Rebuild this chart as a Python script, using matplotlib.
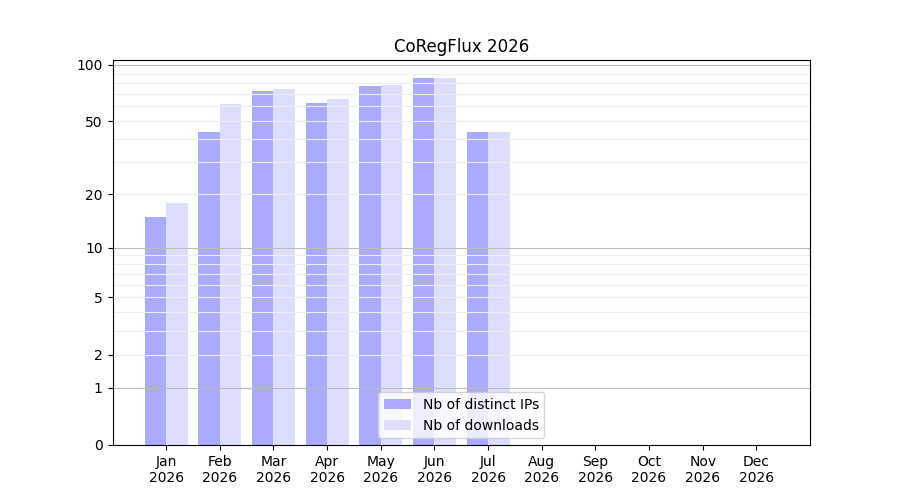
import numpy as np
import matplotlib
matplotlib.use("Agg")
import matplotlib.pyplot as plt

months = ["Jan", "Feb", "Mar", "Apr", "May", "Jun", "Jul", "Aug", "Sep", "Oct", "Nov", "Dec"]
year = "2026"
distinct_ips = [15, 44, 73, 63, 77, 85, 44, 0, 0, 0, 0, 0]
downloads = [18, 62, 74, 66, 78, 85, 44, 0, 0, 0, 0, 0]
ytick_values = [0, 1, 2, 5, 10, 20, 50, 100]

fig, ax = plt.subplots(figsize=(9, 5), dpi=100)

fwd = lambda v: np.log10(1 + np.asarray(v, dtype=float))
inv = lambda v: 10 ** np.asarray(v, dtype=float) - 1
ax.set_yscale("function", functions=(fwd, inv))

x = np.arange(len(months))
w = 0.4
ax.bar(x - w / 2, distinct_ips, width=w, color="#aaaaff", label="Nb of distinct IPs", zorder=1)
ax.bar(x + w / 2, downloads, width=w, color="#ddddff", label="Nb of downloads", zorder=1)

for v in [1, 10, 100]:
    ax.axhline(v, color="#bbbbbb", lw=0.8, zorder=1.5)
for dec in [1, 10]:
    for m in range(2, 10):
        ax.axhline(m * dec, color="#eeeeee", lw=0.8, zorder=1.5)

ax.set_ylim(0, max(max(distinct_ips), max(downloads)) * 1.25)
ax.set_xlim(-1, 12)
ax.set_yticks(ytick_values)
ax.set_yticklabels([str(v) for v in ytick_values])
ax.minorticks_off()
ax.set_xticks(x)
ax.set_xticklabels([f"{m}\n{year}" for m in months])
ax.set_title("CoRegFlux 2026")
ax.legend(loc="lower center")

fig.savefig("out.png")
